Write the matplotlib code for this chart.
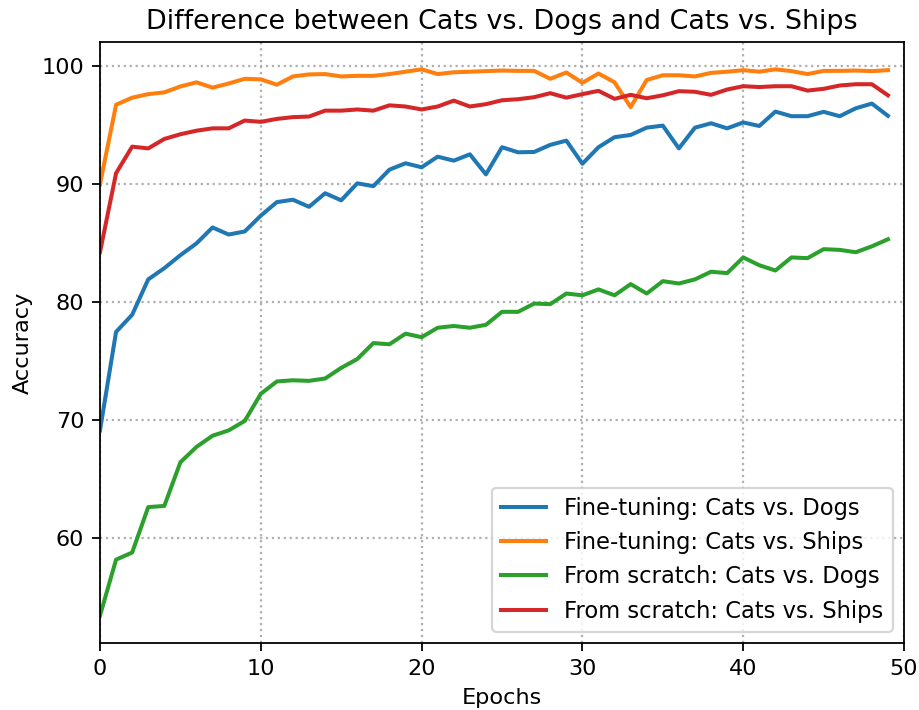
import matplotlib
matplotlib.use("Agg")
import matplotlib.pyplot as plt
import numpy as np

epochs = np.arange(50)

# fine-tuning: cats vs. dogs
ft_dogs = [69.1, 77.45, 78.9, 81.9, 82.85, 83.95, 84.95, 86.3, 85.7, 85.96,
           87.3, 88.45, 88.65, 88.05, 89.2, 88.6, 90.04, 89.8, 91.2, 91.74,
           91.4, 92.3, 91.96, 92.5, 90.8, 93.1, 92.67, 92.7, 93.3, 93.66,
           91.7, 93.1, 93.95, 94.14, 94.76, 94.93, 93.0, 94.76, 95.13, 94.7,
           95.2, 94.9, 96.12, 95.73, 95.73, 96.1, 95.73, 96.4, 96.8, 95.76]

# fine-tuning: cats vs. ships
ft_ships = [89.95, 96.7, 97.3, 97.6, 97.75, 98.25, 98.6, 98.15, 98.5, 98.9,
            98.85, 98.4, 99.1, 99.27, 99.3, 99.1, 99.15, 99.15, 99.3, 99.5,
            99.7, 99.3, 99.45, 99.5, 99.55, 99.6, 99.57, 99.57, 98.9, 99.43,
            98.56, 99.35, 98.6, 96.5, 98.8, 99.2, 99.2, 99.1, 99.4, 99.5,
            99.63, 99.5, 99.7, 99.55, 99.3, 99.57, 99.57, 99.6, 99.55, 99.63]

# from scratch: cats vs. dogs
sc_dogs = [53.4, 58.15, 58.75, 62.6, 62.7, 66.4, 67.7, 68.65, 69.1, 69.9,
           72.2, 73.25, 73.35, 73.3, 73.5, 74.4, 75.15, 76.5, 76.4, 77.3,
           77.0, 77.8, 77.95, 77.8, 78.05, 79.15, 79.15, 79.85, 79.8, 80.7,
           80.55, 81.05, 80.55, 81.5, 80.7, 81.75, 81.55, 81.9, 82.55, 82.43,
           83.76, 83.1, 82.65, 83.76, 83.7, 84.46, 84.4, 84.2, 84.7, 85.3]

# from scratch: cats vs. ships
sc_ships = [84.2, 90.9, 93.15, 93.0, 93.8, 94.2, 94.5, 94.7, 94.7, 95.36,
            95.25, 95.5, 95.65, 95.7, 96.2, 96.2, 96.3, 96.2, 96.65, 96.55,
            96.3, 96.55, 97.05, 96.55, 96.75, 97.08, 97.17, 97.34, 97.68, 97.3,
            97.6, 97.88, 97.2, 97.54, 97.25, 97.5, 97.85, 97.8, 97.54, 97.99,
            98.27, 98.2, 98.27, 98.27, 97.9, 98.05, 98.33, 98.44, 98.44, 97.5]

DPI = 161
fig = plt.figure(figsize=(919 / DPI, 710 / DPI), dpi=DPI)
ax = fig.add_axes([0.1088, 0.0944, 0.8749, 0.8464])

ax.plot(epochs, ft_dogs, lw=1.8, label="Fine-tuning: Cats vs. Dogs")
ax.plot(epochs, ft_ships, lw=1.8, label="Fine-tuning: Cats vs. Ships")
ax.plot(epochs, sc_dogs, lw=1.8, label="From scratch: Cats vs. Dogs")
ax.plot(epochs, sc_ships, lw=1.8, label="From scratch: Cats vs. Ships")

ax.set_xlim(0, 50)
ax.set_title("Difference between Cats vs. Dogs and Cats vs. Ships")
ax.set_xlabel("Epochs")
ax.set_ylabel("Accuracy")
ax.grid(True, linestyle=":", linewidth=1, color="#b0b0b0")
ax.legend(loc="lower right", fontsize=10.1)

fig.savefig("out.png", dpi=DPI)
